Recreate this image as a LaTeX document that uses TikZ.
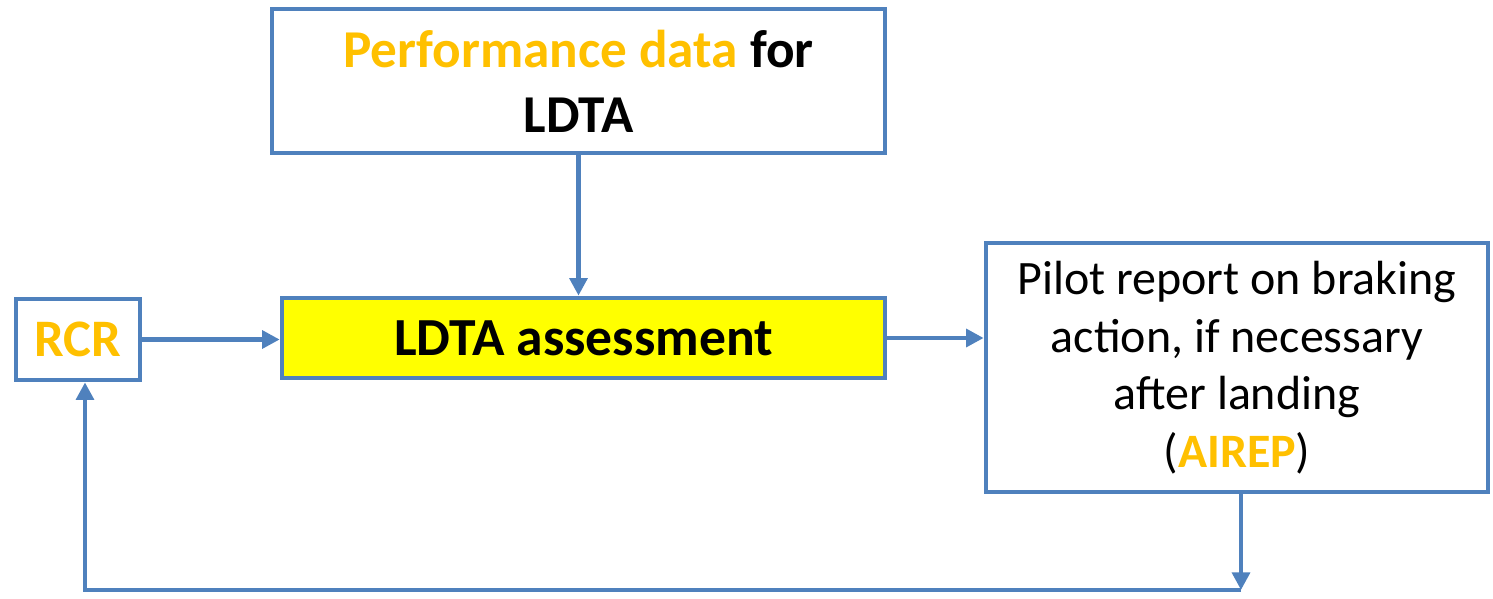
\documentclass[tikz,border=0pt]{standalone}
\usepackage{fontspec}
\setmainfont{Carlito}
\definecolor{BoxBlue}{HTML}{4F81BD}
\definecolor{HiGold}{HTML}{FFC000}
\definecolor{HiYellow}{HTML}{FFFF00}
\usetikzlibrary{arrows.meta, positioning, calc}

\begin{document}
\begin{tikzpicture}[x=0.02cm, y=-0.02cm, >={Triangle[length=10pt, width=10pt]},
    box/.style={draw=BoxBlue, line width=2.7pt, inner sep=0pt, align=center},
    link/.style={->, BoxBlue, line width=2.7pt}]
  \useasboundingbox (0,0) rectangle (1493,598);
  % Boxes
  \node[box, minimum width=12.26cm, minimum height=2.88cm,
        font=\fontsize{30.3}{37}\selectfont\bfseries] (perf) at (578.5,81)
    {\textcolor{HiGold}{Performance data} for\\ LDTA};
  \node[box, minimum width=2.48cm, minimum height=1.62cm,
        font=\fontsize{30}{36}\selectfont\bfseries, text=HiGold] (rcr) at (78,339.5) {RCR};
  \node[box, fill=HiYellow, minimum width=12.06cm, minimum height=1.6cm,
        font=\fontsize{30.5}{36}\selectfont\bfseries] (ldta) at (583.5,338) {LDTA assessment};
  \node[box, minimum width=10.04cm, minimum height=4.98cm,
        font=\fontsize{27.3}{32.8}\selectfont] (pirep) at (1237,367.5)
    {Pilot report on braking\\ action, if necessary\\ after landing\\
     (\textcolor{HiGold}{\bfseries AIREP})};
  % Feedback corners
  \coordinate (loopR) at (1241,590);
  \coordinate (loopL) at (85,590);
  % Arrows
  \draw[link] (perf.south) -- (perf.south |- ldta.north);
  \draw[link] (rcr.east) -- (rcr.east -| ldta.west);
  \draw[link] (ldta.east) -- (ldta.east -| pirep.west);
  \draw[link] (pirep.south -| loopR) -- (loopR);
  \draw[link] (loopR) -- (loopL) -- (loopL |- rcr.south);
\end{tikzpicture}
\end{document}
